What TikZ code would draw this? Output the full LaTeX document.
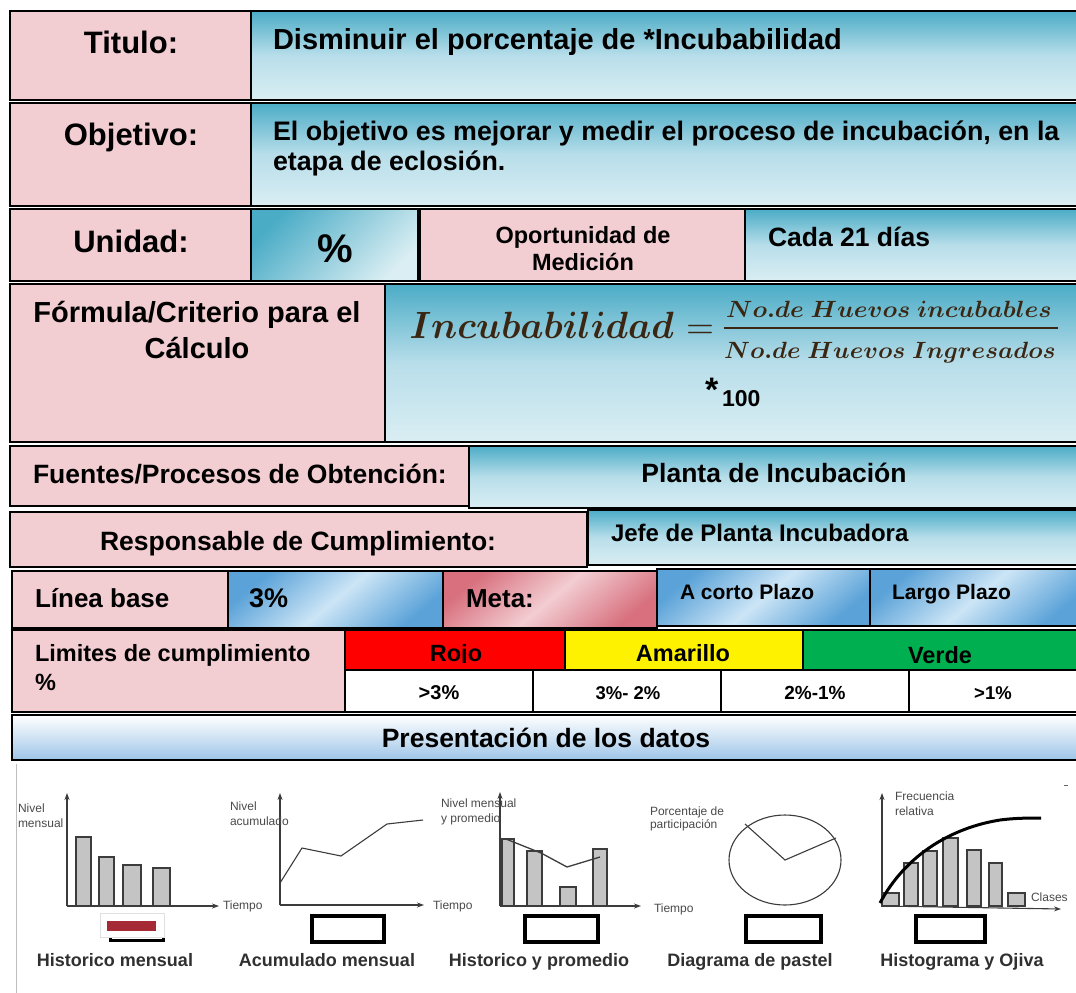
\documentclass[tikz,border=0pt]{standalone}
\usepackage[no-math]{fontspec}
\setmainfont{Liberation Sans}
\usepackage{graphicx}
\usetikzlibrary{arrows.meta}
\newcommand\fsz[2]{\fontsize{#1}{#2}\selectfont}
\definecolor{pinkc}{HTML}{F2CDD2}
\definecolor{tealD}{HTML}{4BACC6}
\definecolor{tealM}{HTML}{B8DEEA}
\definecolor{tealL}{HTML}{DAEEF3}
\definecolor{skyD}{HTML}{5AA2D8}
\definecolor{skyL}{HTML}{CCE5F6}
\definecolor{roseD}{HTML}{D8707E}
\definecolor{presB}{HTML}{9EC5E8}
\definecolor{greenc}{HTML}{00B050}
\definecolor{axc}{HTML}{3C3C3C}
\definecolor{barc}{HTML}{C4C4C4}
\definecolor{smc}{HTML}{4A4A4A}
\definecolor{blc}{HTML}{303030}
\definecolor{fdark}{HTML}{3A2612}
\definecolor{boxred}{HTML}{A52A35}
\begin{document}
\begin{tikzpicture}[x=1pt,y=1pt,
  cellb/.style={draw=black, line width=2.2pt},
  pinkcell/.style={cellb, fill=pinkc},
  bluev/.style={cellb, top color=tealD, bottom color=tealL, middle color=tealM},
  bluediag/.style={cellb, top color=tealD, bottom color=tealL, shading angle=45},
  bluetwin/.style={cellb, left color=skyD, right color=skyD, middle color=skyL, shading angle=40},
  metacell/.style={cellb, left color=roseD, right color=roseD, middle color=pinkc, shading angle=40},
  tx/.style={inner sep=0pt, outer sep=0pt, text=black},
  ax/.style={draw=axc, line width=1.1pt, -{Stealth[length=7pt,width=5pt]}},
  barst/.style={draw=axc, line width=1.1pt, fill=barc},
  sm/.style={tx, anchor=base west, font=\fsz{12}{14}, text=smc},
  blab/.style={tx, anchor=base, font=\bfseries\fsz{18}{20}, text=blc},
  bbox/.style={draw=black, line width=4pt}
]
\useasboundingbox (0,0) rectangle (1076,-993);
\fill[white] (0,0) rectangle (1076,-993);

% ---------- row 1
\path[pinkcell] (10,-11) rectangle (251,-100);
\path[bluev] (251,-11) rectangle (1084,-100);
\node[tx, anchor=base, font=\bfseries\fsz{31}{36}] (tTit) at (131,-53) {Titulo:};
\node[tx, anchor=base west, font=\bfseries\fsz{29}{34}] (tTitV) at (273,-49) {Disminuir el porcentaje de *Incubabilidad};

% ---------- row 2
\path[pinkcell] (10,-103) rectangle (251,-206);
\path[bluev] (251,-103) rectangle (1084,-206);
\node[tx, anchor=base, font=\bfseries\fsz{31}{36}] (tObj) at (131,-145) {Objetivo:};
\node[tx, anchor=base west, font=\bfseries\fsz{26.8}{30}] (tObjV1) at (273,-140) {El objetivo es mejorar y medir el proceso de incubación, en la};
\node[tx, anchor=base west, font=\bfseries\fsz{26.8}{30}] (tObjV2) at (273,-170) {etapa de eclosión.};

% ---------- row 3
\path[pinkcell] (10,-209) rectangle (251,-281);
\path[bluediag] (251,-209) rectangle (418,-281);
\path[pinkcell] (420,-209) rectangle (745,-281);
\path[bluev] (745,-209) rectangle (1084,-281);
\node[tx, anchor=base, font=\bfseries\fsz{31}{36}] (tUni) at (131,-252) {Unidad:};
\node[tx, anchor=base, font=\bfseries\fsz{40}{44}] (tPct) at (335,-262) {\%};
\node[tx, anchor=base, font=\bfseries\fsz{23.5}{26}] (tOpo1) at (583,-243) {Oportunidad de};
\node[tx, anchor=base, font=\bfseries\fsz{23.5}{26}] (tOpo2) at (583,-270) {Medición};
\node[tx, anchor=base west, font=\bfseries\fsz{26.5}{30}] (tCada) at (768,-246) {Cada 21 días};

% ---------- row 4 (formula)
\path[pinkcell] (10,-284) rectangle (385,-442);
\path[bluev] (385,-284) rectangle (1084,-442);
\node[tx, anchor=base, font=\bfseries\fsz{29}{34}] (tForm1) at (197,-322) {Fórmula/Criterio para el};
\node[tx, anchor=base, font=\bfseries\fsz{29}{34}] (tForm2) at (197,-358) {Cálculo};
\node[tx, anchor=base west, text=fdark] (fInc) at (409.5,-338.5) {\scalebox{3.68}[3.8]{\boldmath$Incubabilidad$}};
\node[tx, anchor=base west, text=fdark] (fEq) at (686,-338.5) {\scalebox{3.6}{$=$}};
\coordinate (fBarL) at (724,-328);
\coordinate (fBarR) at (1058,-328);
\draw[fdark, line width=1.6pt] (fBarL) -- (fBarR);
\node[tx, anchor=base, text=fdark] (fNum) at (889,-317) {\scalebox{2.48}[2.35]{\boldmath$No.de\ Huevos\ incubables$}};
\node[tx, anchor=base, text=fdark] (fDen) at (890,-358) {\scalebox{2.44}[2.35]{\boldmath$No.de\ Huevos\ Ingresados$}};
\node[tx, anchor=base west, font=\bfseries\fsz{34}{36}] (fStar) at (705,-401) {*};
\node[tx, anchor=base west, font=\bfseries\fsz{23}{26}] (fCien) at (722,-406) {100};

% ---------- row 5
\path[pinkcell] (10,-446) rectangle (469,-506);
\path[bluev] (469,-446) rectangle (1084,-508);
\node[tx, anchor=base west, font=\bfseries\fsz{26.5}{30}] (tFue) at (33,-483) {Fuentes/Procesos de Obtención:};
\node[tx, anchor=base, font=\bfseries\fsz{26.5}{30}] (tPla) at (774,-482) {Planta de Incubación};

% ---------- row 6
\path[pinkcell] (10,-512) rectangle (587,-567);
\path[bluev] (588,-510) rectangle (1084,-565);
\node[tx, anchor=base west, font=\bfseries\fsz{26.5}{30}] (tRes) at (100,-550) {Responsable de Cumplimiento:};
\node[tx, anchor=base west, font=\bfseries\fsz{24}{28}] (tJefe) at (611,-541) {Jefe de Planta Incubadora};

% ---------- row 7
\path[pinkcell] (12,-571) rectangle (228,-628);
\path[bluetwin] (228,-571) rectangle (443,-628);
\path[metacell] (443,-571) rectangle (657,-628);
\path[bluetwin] (657,-569) rectangle (870,-626);
\path[bluetwin] (870,-569) rectangle (1084,-626);
\node[tx, anchor=base west, font=\bfseries\fsz{26}{30}] (tLin) at (35,-607) {Línea base};
\node[tx, anchor=base west, font=\bfseries\fsz{27}{30}] (t3) at (249,-607) {3\%};
\node[tx, anchor=base west, font=\bfseries\fsz{26}{30}] (tMeta) at (466,-607) {Meta:};
\node[tx, anchor=base west, font=\bfseries\fsz{21}{24}] (tCorto) at (680,-599) {A corto Plazo};
\node[tx, anchor=base west, font=\bfseries\fsz{21}{24}] (tLargo) at (892,-599) {Largo Plazo};

% ---------- row 8
\path[pinkcell] (12,-630) rectangle (345,-712);
\path[cellb, fill=red] (345,-630) rectangle (565,-670);
\path[cellb, fill=yellow] (565,-630) rectangle (803,-670);
\path[cellb, fill=greenc] (803,-630) rectangle (1084,-670);
\node[tx, anchor=base west, font=\bfseries\fsz{23.5}{27}] (tLim1) at (35,-661) {Limites de cumplimiento};
\node[tx, anchor=base west, font=\bfseries\fsz{23.5}{27}] (tLim2) at (35,-690) {\%};
\begin{scope}
\clip (345,-630) rectangle (803,-662);
\node[tx, anchor=base, font=\bfseries\fsz{23.5}{27}] (tRojo) at (456,-661) {Rojo};
\node[tx, anchor=base, font=\bfseries\fsz{23.5}{27}] (tAma) at (683,-661) {Amarillo};
\end{scope}
\node[tx, anchor=base, font=\bfseries\fsz{23.5}{27}] (tVer) at (940,-663) {Verde};
\path[cellb, fill=white] (345,-670) rectangle (533,-712);
\path[cellb, fill=white] (533,-670) rectangle (721,-712);
\path[cellb, fill=white] (721,-670) rectangle (909,-712);
\path[cellb, fill=white] (909,-670) rectangle (1084,-712);
\node[tx, anchor=base, font=\bfseries\fsz{20}{24}] (tv1) at (439,-699) {>3\%};
\node[tx, anchor=base, font=\bfseries\fsz{18.5}{22}] (tv2) at (628,-699) {3\%- 2\%};
\node[tx, anchor=base, font=\bfseries\fsz{19}{22}] (tv3) at (815,-699) {2\%-1\%};
\node[tx, anchor=base, font=\bfseries\fsz{18.5}{22}] (tv4) at (993,-699) {>1\%};

% ---------- row 9
\path[cellb, top color=white, bottom color=presB] (12,-715) rectangle (1084,-760);
\node[tx, anchor=base, font=\bfseries\fsz{26.5}{30}] (tPres) at (546,-747) {Presentación de los datos};

% ---------- charts area
\draw[black!25, line width=1pt] (16,-764) -- (16,-993);
\draw[black!60, line width=1pt] (1064,-785) -- (1068,-785);

% chart 1: historico mensual
\draw[barst] (76,-906) rectangle (91,-837);
\draw[barst] (99,-906) rectangle (114,-857);
\draw[barst] (123,-906) rectangle (141,-865);
\draw[barst] (153,-906) rectangle (170,-868);
\draw[ax] (67,-906) -- (67,-793);
\draw[ax] (67,-906) -- (219,-906);
\node[sm] (c1a) at (18,-812) {Nivel};
\node[sm] (c1b) at (18,-827) {mensual};
\node[sm] (c1t) at (223,-909) {Tiempo};
\draw[black, line width=3pt] (110,-918) rectangle (163,-940);
\path[fill=white, draw=black!12, line width=1pt] (100,-913) rectangle (164,-937);
\fill[boxred] (107,-921) rectangle (156,-931);
\node[blab] (b1) at (115,-966) {Historico mensual};

% chart 2: acumulado mensual
\draw[axc, line width=1.1pt] (280,-883) -- (302,-848) -- (341,-856) -- (387,-824) -- (423,-820);
\draw[ax] (280,-905) -- (280,-793);
\draw[ax] (280,-905) -- (424,-905);
\node[sm] (c2a) at (230,-810) {Nivel};
\node[sm] (c2b) at (230,-825) {acumulado};
\node[sm] (c2t) at (433,-909) {Tiempo};
\draw[bbox] (312,-916) rectangle (384,-942);
\node[blab] (b2) at (327,-966) {Acumulado mensual};

% chart 3: historico y promedio
\draw[barst] (502,-906) rectangle (514,-839);
\draw[barst] (527,-906) rectangle (542,-851);
\draw[barst] (560,-906) rectangle (576,-887);
\draw[barst] (593,-906) rectangle (607,-849);
\draw[axc, line width=1.3pt] (506,-839) -- (541,-853) -- (567,-867) -- (600,-857);
\draw[ax] (500,-906) -- (500,-792);
\draw[ax] (500,-906) -- (641,-906);
\node[sm] (c3a) at (441,-807) {Nivel mensual};
\node[sm] (c3b) at (441,-822) {y promedio};
\node[sm] (c3t) at (654,-912) {Tiempo};
\draw[bbox] (525,-916) rectangle (598,-942);
\node[blab] (b3) at (539,-966) {Historico y promedio};

% chart 4: diagrama de pastel
\draw[axc, line width=1.1pt] (785,-860) ellipse [x radius=56, y radius=45];
\draw[axc, line width=1.1pt] (745,-824) -- (785,-860) -- (836,-838);
\node[sm] (c4a) at (650,-815) {Porcentaje de};
\node[sm] (c4b) at (650,-828) {participación};
\draw[bbox] (746,-916) rectangle (821,-942);
\node[blab] (b4) at (750,-966) {Diagrama de pastel};

% chart 5: histograma y ojiva
\draw[barst] (882,-906) rectangle (899,-893);
\draw[barst] (904,-906) rectangle (918,-863);
\draw[barst] (923,-906) rectangle (937,-851);
\draw[barst] (943,-906) rectangle (958,-838);
\draw[barst] (967,-906) rectangle (981,-850);
\draw[barst] (989,-906) rectangle (1002,-863);
\draw[barst] (1008,-906) rectangle (1025,-893);
\draw[ax] (882,-906) -- (882,-793);
\draw[ax] (882,-906) -- (1061,-909);
\draw[black, line width=3pt] (880,-903) .. controls (905,-856) and (950,-828) .. (1000,-820) .. controls (1015,-818) and (1030,-818) .. (1041,-818);
\node[sm] (c5a) at (895,-800) {Frecuencia};
\node[sm] (c5b) at (895,-815) {relativa};
\node[sm] (c5t) at (1031,-901) {Clases};
\draw[bbox] (916,-916) rectangle (985,-942);
\node[blab] (b5) at (962,-966) {Histograma y Ojiva};
\end{tikzpicture}
\end{document}
